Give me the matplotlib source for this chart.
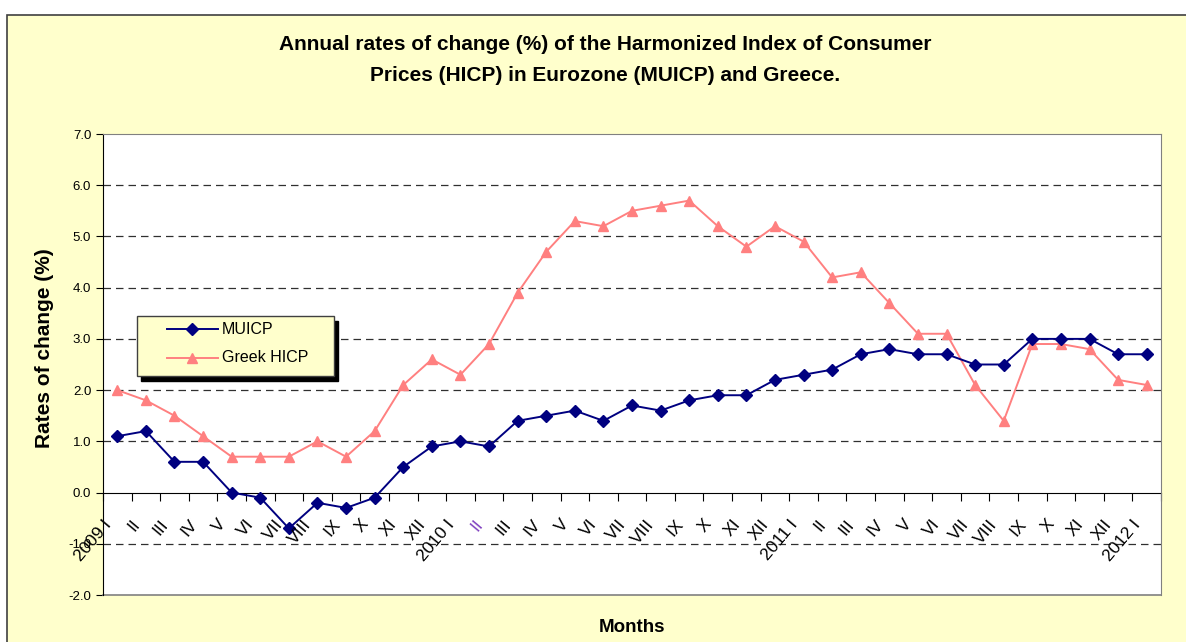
import matplotlib
matplotlib.use("Agg")
import matplotlib.pyplot as plt
from matplotlib.patches import Rectangle
from matplotlib.lines import Line2D
from matplotlib.transforms import ScaledTranslation
import numpy as np

plt.rcParams['font.family'] = ['Liberation Sans', 'DejaVu Sans']

# data: monthly annual rates of change (%), 2009 I .. 2012 I
months = ['2009 I', 'II', 'III', 'IV', 'V', 'VI', 'VII', 'VIII', 'IX', 'X', 'XI', 'XII',
          '2010 I', 'II', 'III', 'IV', 'V', 'VI', 'VII', 'VIII', 'IX', 'X', 'XI', 'XII',
          '2011 I', 'II', 'III', 'IV', 'V', 'VI', 'VII', 'VIII', 'IX', 'X', 'XI', 'XII',
          '2012 I']
muicp = [1.1, 1.2, 0.6, 0.6, 0.0, -0.1, -0.7, -0.2, -0.3, -0.1, 0.5, 0.9,
         1.0, 0.9, 1.4, 1.5, 1.6, 1.4, 1.7, 1.6, 1.8, 1.9, 1.9, 2.2,
         2.3, 2.4, 2.7, 2.8, 2.7, 2.7, 2.5, 2.5, 3.0, 3.0, 3.0, 2.7,
         2.7]
greek = [2.0, 1.8, 1.5, 1.1, 0.7, 0.7, 0.7, 1.0, 0.7, 1.2, 2.1, 2.6,
         2.3, 2.9, 3.9, 4.7, 5.3, 5.2, 5.5, 5.6, 5.7, 5.2, 4.8, 5.2,
         4.9, 4.2, 4.3, 3.7, 3.1, 3.1, 2.1, 1.4, 2.9, 2.9, 2.8, 2.2,
         2.1]
yticks = [-2.0, -1.0, 0.0, 1.0, 2.0, 3.0, 4.0, 5.0, 6.0, 7.0]

W, H = 1186, 642
fig = plt.figure(figsize=(W/100, H/100), dpi=100, facecolor='white')

def fx(px):
    return px / W

def fy(py):
    return 1 - py / H

# yellow chart panel
fig.patches.append(Rectangle((fx(7), -0.05), 1.2, 1.05 - 15/H, transform=fig.transFigure,
                             facecolor='#FFFFCC', edgecolor='#404040', linewidth=1.2, zorder=-5))

ax = fig.add_axes([fx(103), fy(595), (1161 - 103)/W, (595 - 134)/H])
ax.set_zorder(2)
ax.set_facecolor('white')

x = np.arange(len(months))
mu_style = dict(color='#000080', marker='D', markersize=5.8, linewidth=1.4)
gr_style = dict(color='#FF8080', marker='^', markersize=7.5, linewidth=1.4)
ax.plot(x, muicp, zorder=4, **mu_style)
ax.plot(x, greek, zorder=3, **gr_style)

ax.set_xlim(-0.5, len(months) - 0.5)
ax.set_ylim(-2, 7)

# dashed gridlines
for v in yticks:
    if v not in (-2.0, 0.0, 7.0):
        ax.axhline(v, color='#303030', linewidth=0.9, linestyle=(0, (6, 4)), zorder=1)

# frame: category axis crosses at 0
for s in ['top', 'right']:
    ax.spines[s].set_color('#808080')
ax.spines['left'].set_color('black')
ax.spines['bottom'].set_position(('data', 0))
ax.spines['bottom'].set_color('black')
ax.spines['bottom'].set_zorder(2)
ax.plot([0, 1], [0, 0], transform=ax.transAxes, color='#808080', linewidth=1.2, clip_on=False)

ax.set_yticks(yticks)
ax.set_yticklabels(['%.1f' % v for v in yticks], fontsize=9.5)
ax.tick_params(axis='y', direction='out', length=5, color='black')

ax.set_xticks(np.arange(len(months) + 1) - 0.5)
ax.set_xticklabels([])
ax.tick_params(axis='x', direction='out', length=6, color='black')

# month labels under the zero line
off = ScaledTranslation(-9/100, -29/100, fig.dpi_scale_trans)
for i, lab in enumerate(months):
    col = '#8040C0' if i == 13 else 'black'
    ax.text(i, 0, lab, transform=ax.transData + off, rotation=50, ha='right', va='center',
            rotation_mode='anchor', fontsize=12.5, color=col, zorder=5)

fig.text(fx(45), fy(348), 'Rates of change (%)', rotation=90, ha='center', va='center',
         fontsize=15, fontweight='bold')
fig.text(fx(632), fy(628), 'Months', ha='center', va='center',
         fontsize=13.5, fontweight='bold')

fig.text(fx(605), fy(60),
         'Annual rates of change (%) of the Harmonized Index of Consumer\n'
         'Prices (HICP) in Eurozone (MUICP) and Greece.',
         ha='center', va='center', fontsize=15, fontweight='bold', linespacing=1.74)

# legend box with hard black shadow
lx0, lx1, ly0, ly1 = 137, 334, 316, 376
fig.add_artist(Rectangle((fx(lx0 + 4), fy(ly1 + 5)), (lx1 - lx0)/W, (ly1 - ly0)/H,
                         transform=fig.transFigure, facecolor='black', edgecolor='black',
                         zorder=10))
fig.add_artist(Rectangle((fx(lx0), fy(ly1)), (lx1 - lx0)/W, (ly1 - ly0)/H,
                         transform=fig.transFigure, facecolor='#FFFFCC', edgecolor='#404040',
                         linewidth=1, zorder=11))
for name, style, yy in [('MUICP', mu_style, 329), ('Greek HICP', gr_style, 358)]:
    fig.add_artist(Line2D([fx(167), fx(218)], [fy(yy), fy(yy)], transform=fig.transFigure,
                          color=style['color'], linewidth=style['linewidth'], zorder=12))
    fig.add_artist(Line2D([fx(192)], [fy(yy)], transform=fig.transFigure, linestyle='none',
                          color=style['color'], marker=style['marker'],
                          markersize=style['markersize'], zorder=12))
    fig.text(fx(222), fy(yy), name, ha='left', va='center', fontsize=11.5, zorder=13)

fig.savefig('out.png', dpi=100, facecolor='white')
